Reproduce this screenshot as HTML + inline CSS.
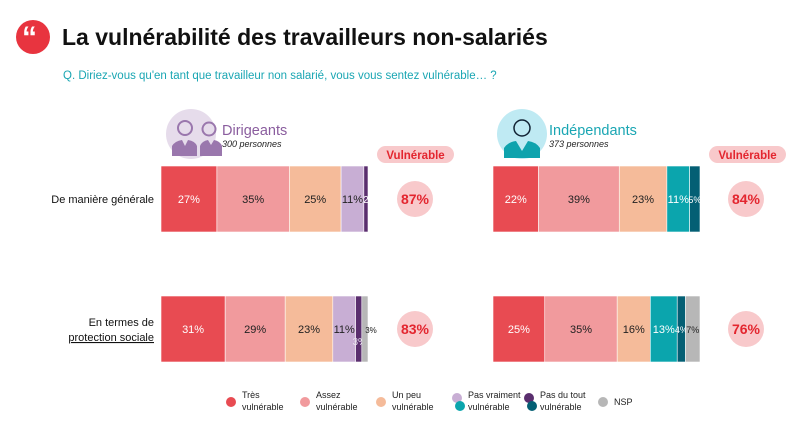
<!DOCTYPE html>
<html><head><meta charset="utf-8"><style>
body{margin:0;background:#fff;font-family:"Liberation Sans",sans-serif;}
svg text{font-family:"Liberation Sans",sans-serif;}
</style></head><body>
<svg id="c" width="795" height="417" xmlns="http://www.w3.org/2000/svg">
<circle cx="33" cy="37" r="17" fill="#e8343f"/>
<text x="22" y="47" font-size="30" font-weight="bold" fill="#fff" font-family="Liberation Serif">“</text>
<text x="62" y="45" font-size="23" font-weight="bold" fill="#111">La vulnérabilité des travailleurs non-salariés</text>
<text x="63" y="79" font-size="11.5" fill="#1aa6b3">Q. Diriez-vous qu'en tant que travailleur non salarié, vous vous sentez vulnérable… ?</text>
<g>
<circle cx="191" cy="134" r="25" fill="#e6dceb"/>
<path d="M172 156 v-10 q3-5 10-6 l3 6 l3-6 q7 1 9 6 v10z M200 156 v-10 q2-5 8-6 l3 5 l3-5 q6 1 8 6 v10z" fill="#9a77ad"/>
<circle cx="185" cy="128" r="7" fill="none" stroke="#9a77ad" stroke-width="2"/>
<circle cx="209" cy="129" r="6.5" fill="none" stroke="#9a77ad" stroke-width="2"/>
<text x="222" y="135" font-size="14.5" fill="#8a5d9e">Dirigeants</text>
<text x="222" y="147" font-size="9" font-style="italic" fill="#222">300 personnes</text>
</g>
<g>
<circle cx="522" cy="134" r="25" fill="#bfeaf3"/>
<path d="M504 158 v-10 q4-6 12-7 l6 10 l6-10 q8 1 12 7 v10z" fill="#0fa3ad"/>
<circle cx="522" cy="128" r="8" fill="none" stroke="#123" stroke-width="1.5"/>
<text x="549" y="135" font-size="14.5" fill="#1aa6b3">Indépendants</text>
<text x="549" y="147" font-size="9" font-style="italic" fill="#222">373 personnes</text>
</g>
<g><rect x="377" y="146" width="77" height="17" rx="8.5" fill="#f8c9cb"/><text x="415.5" y="159" font-size="11.5" font-weight="bold" fill="#e3262f" text-anchor="middle">Vulnérable</text></g>
<g><rect x="709" y="146" width="77" height="17" rx="8.5" fill="#f8c9cb"/><text x="747.5" y="159" font-size="11.5" font-weight="bold" fill="#e3262f" text-anchor="middle">Vulnérable</text></g>
<text x="154" y="203" font-size="11" fill="#111" text-anchor="end">De manière générale</text>
<text x="154" y="326" font-size="11" fill="#111" text-anchor="end">En termes de</text>
<text x="154" y="341" font-size="11" fill="#111" text-anchor="end" text-decoration="underline">protection sociale</text>
<g id="bars"></g>
<g id="legend"></g>
</svg>
<script>
const rowsLeft = [[27,35,25,11,2,0],[31,29,23,11,3,3]];
const rowsRight = [[22,39,23,11,5,0],[25,35,16,13,4,7]];
const totalsLeft = [87,83];
const totalsRight = [84,76];
const legendLabels = [["Très","vulnérable"],["Assez","vulnérable"],["Un peu","vulnérable"],["Pas vraiment","vulnérable"],["Pas du tout","vulnérable"],["NSP",""]];
const colL=["#e84b52","#f19a9d","#f5bb9a","#c8aed4","#5a2e6e","#b7b7b7"];
const colR=["#e84b52","#f19a9d","#f5bb9a","#0ba5ad","#045f74","#b7b7b7"];
const txtL=["#fff","#222","#222","#222","#fff","#222"];
const txtR=["#fff","#222","#222","#fff","#fff","#222"];
const NS="http://www.w3.org/2000/svg";
const g=document.getElementById('bars');
const rowY=[166,296], barH=66, scale=2.07;
function mk(t,a){const e=document.createElementNS(NS,t);for(const k in a)e.setAttribute(k,a[k]);return e;}
function drawGroup(rows,totals,x0,cx,cols,tc,side){
 rows.forEach((r,i)=>{let x=x0;
  r.forEach((v,j)=>{if(!v)return;const w=v*scale;
   const rc=mk('rect',{x:x,y:rowY[i],width:w,height:barH,fill:cols[j],stroke:'#fff','stroke-width':0.6});
   
   
   g.appendChild(rc);
   const small=w<18;
   let tx=x+w/2, ty=rowY[i]+barH/2+4, fs=small?9:11, fill=tc[j], lbl=v+'%';
   if(small&&side==='left'&&i===1&&j===4){tx=x+w/2+1;ty=rowY[i]+barH/2+16;fill='#e8e0ee';fs=10;}
   if(small&&side==='left'&&i===1&&j===5){tx=x+w+3;ty=rowY[i]+barH/2+4;fill='#222';fs=8;}
   if(small&&side==='left'&&i===0&&j===4){lbl=String(v);tx=x+w/2;fs=10;fill='#fff';}
   if(j===5&&side==='right'){fill='#222';fs=9;}
   const t=mk('text',{x:tx,y:ty,'font-size':fs,fill:fill,'text-anchor':'middle'});
   t.textContent=lbl;
   
   
   g.appendChild(t);x+=w;});
  const c=mk('circle',{cx:cx,cy:rowY[i]+barH/2,r:18,fill:'#f8c9cb'});
  
  
  g.appendChild(c);
  const t=mk('text',{x:cx,y:rowY[i]+barH/2+5,'font-size':14,'font-weight':'bold',fill:'#e3262f','text-anchor':'middle'});
  t.textContent=totals[i]+'%';
  
  
  g.appendChild(t);
 });
}
drawGroup(rowsLeft,totalsLeft,161,415,colL,txtL,'left');
drawGroup(rowsRight,totalsRight,493,746,colR,txtR,'right');
const lg=document.getElementById('legend');
const lx=[231,305,381,457,529,603];
legendLabels.forEach((l,i)=>{
 const it=mk('g',{});
 
 
 if(i==3||i==4){
  it.appendChild(mk('circle',{cx:lx[i],cy:398,r:5,fill:colL[i]}));
  it.appendChild(mk('circle',{cx:lx[i]+3,cy:406,r:5,fill:colR[i]}));
 } else it.appendChild(mk('circle',{cx:lx[i],cy:402,r:5,fill:colL[i]}));
 const t1=mk('text',{x:lx[i]+11,y:l[1]?398:405,'font-size':9,fill:'#222'});t1.textContent=l[0];it.appendChild(t1);
 if(l[1]){const t2=mk('text',{x:lx[i]+11,y:410,'font-size':9,fill:'#222'});t2.textContent=l[1];it.appendChild(t2);}
 lg.appendChild(it);
});
</script>
</body></html>
